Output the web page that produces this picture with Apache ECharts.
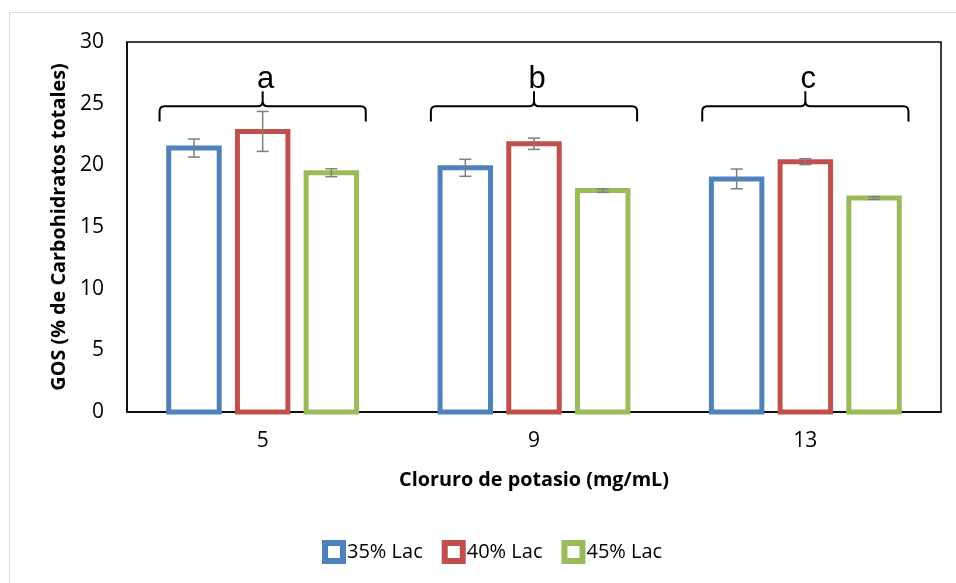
<!DOCTYPE html>
<html>
<head>
<meta charset="utf-8">
<script src="https://cdn.jsdelivr.net/npm/echarts@6/dist/echarts.min.js"></script>
<style>
  html, body { margin: 0; padding: 0; background: #fff; }
  #chart { width: 956px; height: 583px; }
</style>
</head>
<body>
<div id="chart"></div>
<script>
// Potassium chloride concentrations (x categories)
const categories = ['5', '9', '13'];
const seriesNames = ['35% Lac', '40% Lac', '45% Lac'];

// GOS (% of total carbohydrates), mean values per lactose level
const lac35 = [21.4, 19.8, 18.9];
const lac40 = [22.75, 21.75, 20.3];
const lac45 = [19.4, 17.95, 17.35];

// Error bar half-lengths
const err35 = [0.73, 0.69, 0.8];
const err40 = [1.62, 0.46, 0.24];
const err45 = [0.32, 0.14, 0.11];

// Significance letters shown above each group
const groupLetters = ['a', 'b', 'c'];

// Y axis ticks
const yMin = 0, yMax = 30, yStep = 5;

const colors = ['#4F81BD', '#C0504D', '#9BBB59'];
const values = [lac35, lac40, lac45];
const errors = [err35, err40, err45];

const BAR_W = 0.186;   // bar width (stroke centre to stroke centre) as a fraction of the band
const STEP = 0.2532;   // distance between neighbouring bar centres, fraction of the band

const FONT = '"Open Sans", "Liberation Sans", sans-serif';

const chart = echarts.init(document.getElementById('chart'), null, { renderer: 'canvas' });

// Outlined bars: stroke centred on the bar edge, from 0 up to the value
const barSeries = values.map((vals, k) => ({
  name: seriesNames[k],
  type: 'custom',
  data: vals.map((v, i) => [i, v]),
  encode: { x: 0, y: 1 },
  z: 2,
  silent: true,
  itemStyle: { color: '#fff', borderColor: colors[k] },
  renderItem: function (params, api) {
    const i = api.value(0), v = api.value(1);
    const band = api.size([1, 0])[0];
    const dx = (k - 1) * STEP * band;
    const w = BAR_W * band;
    const top = api.coord([i, v]);
    const base = api.coord([i, 0]);
    return {
      type: 'rect',
      shape: { x: top[0] + dx - w / 2, y: top[1], width: w, height: base[1] - top[1] },
      style: { fill: '#fff', stroke: colors[k], lineWidth: 5 }
    };
  }
}));

const errSeries = values.map((vals, k) => ({
  name: seriesNames[k] + ' err',
  type: 'custom',
  data: vals.map((v, i) => [i, v, errors[k][i]]),
  encode: { x: 0, y: 1 },
  z: 4,
  silent: true,
  renderItem: function (params, api) {
    const i = api.value(0), v = api.value(1), e = api.value(2);
    const band = api.size([1, 0])[0];
    const dx = (k - 1) * STEP * band;
    const hi = api.coord([i, v + e]);
    const lo = api.coord([i, v - e]);
    const x = hi[0] + dx;
    const cap = 6;
    const style = { stroke: '#7F7F7F', lineWidth: 1.5, fill: null };
    return {
      type: 'group',
      children: [
        { type: 'line', shape: { x1: x, y1: hi[1], x2: x, y2: lo[1] }, style },
        { type: 'line', shape: { x1: x - cap, y1: hi[1], x2: x + cap, y2: hi[1] }, style },
        { type: 'line', shape: { x1: x - cap, y1: lo[1], x2: x + cap, y2: lo[1] }, style }
      ]
    };
  }
}));

// Curly braces grouping the three bars of each category, with its letter
const BRACE_TOP = 24.8, BRACE_END = 23.55, BRACE_PEAK = 26.0, LETTER_Y = 27.0;
const braceSeries = {
  type: 'custom',
  data: categories.map((c, i) => [i, BRACE_TOP]),
  encode: { x: 0, y: 1 },
  z: 5,
  silent: true,
  renderItem: function (params, api) {
    const i = api.value(0);
    const band = api.size([1, 0])[0];
    const hw = band * 0.38;
    const top = api.coord([i, BRACE_TOP]);
    const cx = top[0], yT = top[1];
    const yE = api.coord([i, BRACE_END])[1];
    const yP = api.coord([i, BRACE_PEAK])[1];
    const yL = api.coord([i, LETTER_Y])[1];
    const x0 = cx - hw, x1 = cx + hw, r = 5;
    const d =
      'M' + x0 + ',' + yE + ' L' + x0 + ',' + (yT + r) +
      ' Q' + x0 + ',' + yT + ' ' + (x0 + r) + ',' + yT +
      ' L' + (cx - r) + ',' + yT +
      ' Q' + cx + ',' + yT + ' ' + cx + ',' + (yT - r) +
      ' L' + cx + ',' + yP +
      ' M' + cx + ',' + yP + ' L' + cx + ',' + (yT - r) +
      ' Q' + cx + ',' + yT + ' ' + (cx + r) + ',' + yT +
      ' L' + (x1 - r) + ',' + yT +
      ' Q' + x1 + ',' + yT + ' ' + x1 + ',' + (yT + r) +
      ' L' + x1 + ',' + yE;
    return {
      type: 'group',
      children: [
        { type: 'path', shape: { pathData: d }, style: { stroke: '#000', lineWidth: 2, fill: null } },
        {
          type: 'text',
          style: {
            text: groupLetters[params.dataIndex],
            x: cx + 3, y: yL,
            align: 'center', verticalAlign: 'middle',
            fontSize: 31, fontFamily: '"Liberation Sans", Arial, sans-serif',
            fill: '#000'
          }
        }
      ]
    };
  }
};

chart.setOption({
  animation: false,
  backgroundColor: '#fff',
  graphic: [{
    type: 'rect',
    shape: { x: 9.5, y: 12.5, width: 1200, height: 1200 },
    style: { fill: null, stroke: '#D9D9D9', lineWidth: 1 },
    silent: true,
    z: -10
  }],
  grid: {
    left: 127, top: 42, width: 814, height: 370,
    show: true, borderColor: '#000', borderWidth: 1.5, backgroundColor: 'transparent'
  },
  legend: {
    left: 322, top: 540, padding: 0,
    itemWidth: 18, itemHeight: 18, itemGap: 19,
    icon: 'rect',
    textStyle: { fontFamily: FONT, fontSize: 20, color: '#000', padding: [0, 0, 0, -1] },
    data: seriesNames.map((n, k) => ({
      name: n,
      icon: 'rect',
      itemStyle: { color: '#fff', borderColor: colors[k], borderWidth: 6 }
    }))
  },
  xAxis: {
    type: 'category',
    data: categories,
    name: 'Cloruro de potasio (mg/mL)',
    nameLocation: 'middle',
    nameGap: 58,
    nameTextStyle: { fontFamily: FONT, fontSize: 19.8, fontWeight: 'bold', color: '#000' },
    axisLine: { show: true, lineStyle: { color: '#000', width: 1.5 } },
    axisTick: { show: false },
    axisLabel: { fontFamily: FONT, fontSize: 21, color: '#000', margin: 19 }
  },
  yAxis: {
    type: 'value',
    min: yMin, max: yMax, interval: yStep,
    name: 'GOS (% de Carbohidratos totales)',
    nameLocation: 'middle',
    nameGap: 57,
    nameTextStyle: { fontFamily: FONT, fontSize: 19.8, fontWeight: 'bold', color: '#000' },
    axisLine: { show: true, lineStyle: { color: '#000', width: 1.5 } },
    axisTick: { show: false },
    splitLine: { show: false },
    axisLabel: { fontFamily: FONT, fontSize: 21, color: '#000', margin: 23 }
  },
  series: barSeries.concat(errSeries, [braceSeries])
});
</script>
</body>
</html>
